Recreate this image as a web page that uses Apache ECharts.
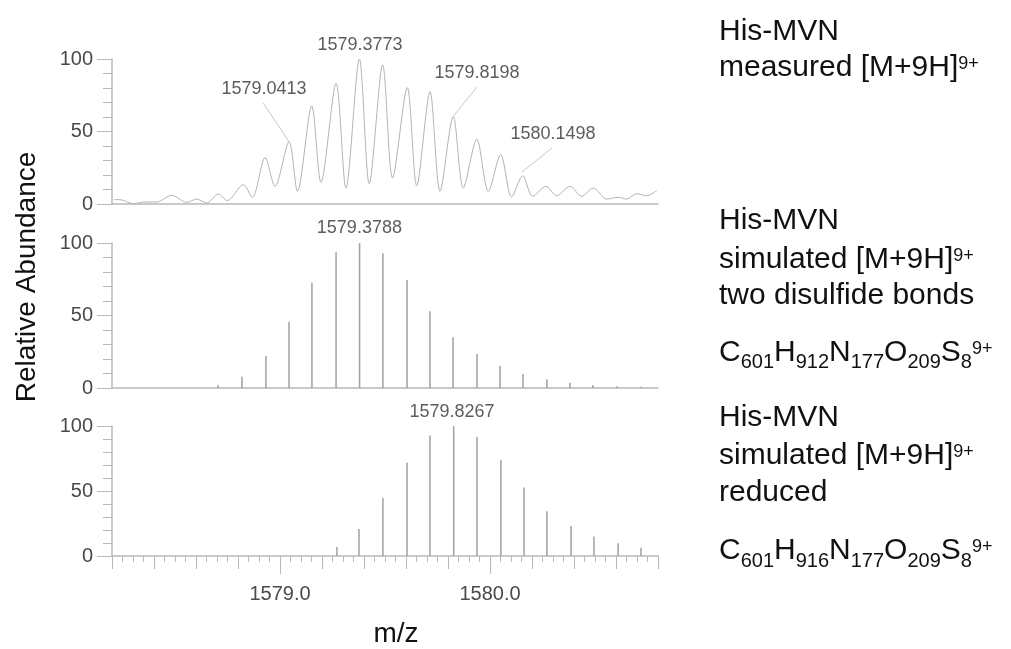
<!DOCTYPE html>
<html>
<head>
<meta charset="utf-8">
<script src="https://cdn.jsdelivr.net/npm/echarts@6/dist/echarts.min.js"></script>
<style>
  html, body { margin: 0; padding: 0; background: #fff; }
  #chart { width: 1011px; height: 649px; }
</style>
</head>
<body>
<div id="chart"></div>
<script>
// measured profile [M+9H]9+ (peaks and valleys)
var measuredMz = [1578.210, 1578.238, 1578.302, 1578.357, 1578.413, 1578.484, 1578.556, 1578.603, 1578.651,
  1578.706, 1578.749, 1578.825, 1578.868, 1578.929, 1578.976, 1579.043, 1579.083, 1579.151, 1579.195,
  1579.267, 1579.314, 1579.378, 1579.425, 1579.489, 1579.536, 1579.606, 1579.651, 1579.714, 1579.762,
  1579.825, 1579.873, 1579.937, 1579.992, 1580.051, 1580.103, 1580.156, 1580.203, 1580.267, 1580.317,
  1580.381, 1580.436, 1580.492, 1580.556, 1580.611, 1580.651, 1580.698, 1580.746, 1580.794];
var measuredAbund = [3, 3, 0.2, 1.4, 1.4, 6, 1.1, 3.4, 0.7,
  6.9, 2.3, 13.3, 4.6, 32, 12.2, 43, 8.7, 67.7, 14.9,
  83.3, 11, 100, 14, 95.9, 17.9, 80.3, 12.6, 77.5, 8.7,
  60.3, 11, 44.7, 8.7, 34, 4.8, 19.5, 5.3, 12.2, 5.7,
  12.2, 5.3, 11, 3.4, 4.6, 3.4, 7.1, 5.7, 9.2];

// simulated, two disulfide bonds
var twoSsMz = [1578.705, 1578.819, 1578.933, 1579.043, 1579.152, 1579.267, 1579.379, 1579.490, 1579.605,
  1579.714, 1579.824, 1579.938, 1580.048, 1580.157, 1580.271, 1580.381, 1580.490, 1580.605, 1580.719];
var twoSsAbund = [2, 7.8, 22, 45.7, 72.6, 93.6, 100, 93, 74.5, 53, 35, 23.4, 15.4, 9.7, 6, 3.7, 2, 1.2, 0.8];

// simulated, reduced
var reducedMz = [1579.271, 1579.376, 1579.490, 1579.605, 1579.714, 1579.827, 1579.938, 1580.052, 1580.162,
  1580.271, 1580.386, 1580.495, 1580.610, 1580.719];
var reducedAbund = [7, 20.8, 44.7, 71.7, 92.7, 100, 91.6, 74, 52.7, 34.5, 23, 15, 9.8, 6.4];

// peak annotations: text, label centre, tip of leader line
var measuredLabels = ['1579.3773', '1579.0413', '1579.8198', '1580.1498'];
var measuredLabelPos = [[1579.381, 109.7], [1578.924, 79.3], [1579.938, 90], [1580.300, 48.3]];
var measuredLeaders = [null, [[1578.919, 69.7], [1579.043, 43]], [[1579.938, 80.7], [1579.825, 60.5]], [[1580.295, 38.6], [1580.152, 22]]];
var twoSsLabels = ['1579.3788'];
var twoSsLabelPos = [[1579.378, 110.3]];
var reducedLabels = ['1579.8267'];
var reducedLabelPos = [[1579.819, 111]];

var xTicks = [1579, 1580];

var font = "'Liberation Sans', Arial, Helvetica, sans-serif";
var axisGrey = '#b8b8b8';
var labelGrey = '#4a4a4a';

function pairs(xs, ys) {
  return xs.map(function (x, i) { return [x, ys[i]]; });
}
function labelData(names, pos) {
  return names.map(function (n, i) { return { name: n, value: pos[i] }; });
}

var chart = echarts.init(document.getElementById('chart'));

function xAx(grid) {
  return {
    type: 'value', gridIndex: grid, min: 1578.2, max: 1580.8,
    axisLine: { show: true, onZero: false, lineStyle: { color: axisGrey, width: 1.5 } },
    axisTick: { show: false }, axisLabel: { show: false }, splitLine: { show: false }
  };
}
function yAx(grid) {
  return {
    type: 'value', gridIndex: grid, min: 0, max: 100, interval: 50,
    axisLine: { show: true, lineStyle: { color: axisGrey, width: 1.5 } },
    axisTick: { show: true, length: 15, lineStyle: { color: axisGrey } },
    minorTick: { show: true, splitNumber: 5, length: 9, lineStyle: { color: axisGrey } },
    axisLabel: { margin: 19, fontSize: 20, color: labelGrey, fontFamily: font },
    splitLine: { show: false }
  };
}

var bottomX = xAx(2);
bottomX.interval = 0.2;
bottomX.axisTick = { show: true, length: 13, lineStyle: { color: axisGrey } };
bottomX.minorTick = { show: true, splitNumber: 4, length: 6, lineStyle: { color: axisGrey } };
bottomX.name = 'm/z';
bottomX.nameLocation = 'middle';
bottomX.nameGap = 64;
bottomX.nameTextStyle = { fontSize: 28, color: '#111', fontFamily: font, padding: [0, 0, 0, 22] };

var labelX = {
  type: 'value', gridIndex: 2, min: 1578.2, max: 1580.8, position: 'bottom',
  axisLine: { show: false },
  axisTick: { show: true, customValues: xTicks, length: 18, lineStyle: { color: axisGrey } },
  axisLabel: {
    show: true, customValues: xTicks, margin: 28, fontSize: 20, color: labelGrey, fontFamily: font,
    formatter: function (v) { return v.toFixed(1); }
  },
  splitLine: { show: false }
};

var series = [
  {
    type: 'line', xAxisIndex: 0, yAxisIndex: 0, data: pairs(measuredMz, measuredAbund),
    showSymbol: false, smooth: 0.3, lineStyle: { color: '#b2b2b2', width: 1 }, z: 2
  },
  {
    type: 'bar', xAxisIndex: 1, yAxisIndex: 1, data: pairs(twoSsMz, twoSsAbund),
    barWidth: 1.5, itemStyle: { color: '#a0a0a0' }
  },
  {
    type: 'bar', xAxisIndex: 2, yAxisIndex: 2, data: pairs(reducedMz, reducedAbund),
    barWidth: 1.5, itemStyle: { color: '#a0a0a0' }
  }
];

function labelSeries(xi, names, pos) {
  return {
    type: 'scatter', xAxisIndex: xi, yAxisIndex: xi, symbolSize: 0, clip: false, silent: true,
    data: labelData(names, pos),
    label: {
      show: true, position: 'inside', formatter: '{b}',
      fontSize: 18, color: '#333', fontFamily: font
    }
  };
}
series.push(labelSeries(0, measuredLabels, measuredLabelPos));
series.push(labelSeries(1, twoSsLabels, twoSsLabelPos));
series.push(labelSeries(2, reducedLabels, reducedLabelPos));

measuredLeaders.forEach(function (seg) {
  if (!seg) return;
  series.push({
    type: 'line', xAxisIndex: 0, yAxisIndex: 0, data: seg, showSymbol: false, silent: true,
    lineStyle: { color: '#c8c8c8', width: 1 }
  });
});

// rich text for the side captions: padding nudges sub/superscripts
var rich = {
  n: { fontSize: 30, lineHeight: 36, padding: [0, 0, 4, 0], fontFamily: font, fill: '#111' },
  sup: { fontSize: 18, verticalAlign: 'top', padding: [3, 0, 0, 0], fontFamily: font, fill: '#111' },
  sub: { fontSize: 20, verticalAlign: 'bottom', fontFamily: font, fill: '#111' }
};
var sideLines = [
  ['{n|His-MVN}', 33.6],
  ['{n|measured [M+9H]}{sup|9+}', 69.6],
  ['{n|His-MVN}', 223],
  ['{n|simulated [M+9H]}{sup|9+}', 261.6],
  ['{n|two disulfide bonds}', 298],
  ['{n|C}{sub|601}{n|H}{sub|912}{n|N}{sub|177}{n|O}{sub|209}{n|S}{sub|8}{sup|9+}', 354.6],
  ['{n|His-MVN}', 419.6],
  ['{n|simulated [M+9H]}{sup|9+}', 458],
  ['{n|reduced}', 494.6],
  ['{n|C}{sub|601}{n|H}{sub|916}{n|N}{sub|177}{n|O}{sub|209}{n|S}{sub|8}{sup|9+}', 553]
];

var graphics = sideLines.map(function (l) {
  return {
    type: 'text', x: 719, y: l[1],
    style: { text: l[0], rich: rich, align: 'left', verticalAlign: 'middle', fill: '#111' }
  };
});
graphics.push({
  type: 'text', x: 27, y: 277, rotation: Math.PI / 2,
  style: {
    text: 'Relative Abundance', fontSize: 28, fontFamily: font, fill: '#111',
    align: 'center', verticalAlign: 'middle'
  }
});

var option = {
  animation: false,
  backgroundColor: '#fff',
  grid: [
    { left: 112, width: 546, top: 59, height: 145 },
    { left: 112, width: 546, top: 243, height: 145 },
    { left: 112, width: 546, top: 426, height: 146 }
  ],
  xAxis: [xAx(0), xAx(1), bottomX, labelX],
  yAxis: [yAx(0), yAx(1), yAx(2)],
  series: series,
  graphic: graphics
};
option && chart.setOption(option);
</script>
</body>
</html>
